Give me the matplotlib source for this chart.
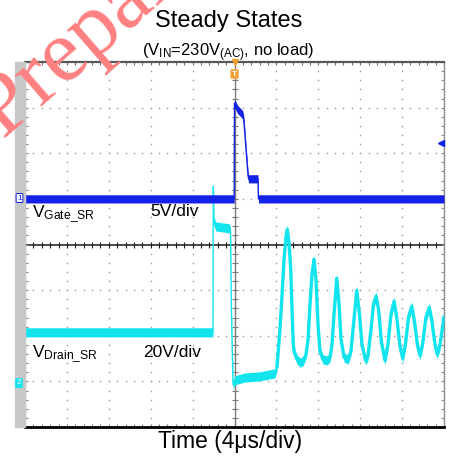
import numpy as np
import matplotlib
matplotlib.use('Agg')
import matplotlib.pyplot as plt
from matplotlib.patches import Rectangle

W, H = 449, 457
plt.rcParams['font.family'] = ['Liberation Sans', 'DejaVu Sans']
plt.rcParams['mathtext.fontset'] = 'custom'
plt.rcParams['mathtext.rm'] = 'Liberation Sans'
plt.rcParams['mathtext.it'] = 'Liberation Sans:italic'
plt.rcParams['mathtext.bf'] = 'Liberation Sans:bold'

# ---------------- data ----------------
time_range_us = (-20, 20)      # 4 us/div, 10 div
gate_range_v = (-25, 15)       # 5 V/div, ground 1 div above centre
drain_range_v = (-20, 140)     # 20 V/div, ground 3 div below centre

gate_t = [-20.0, -0.03, 0.0, 0.3, 0.8, 0.9, 1.29, 1.35, 2.24, 2.29, 20.0]
gate_v = [0.0, 0.0, 10.5, 9.8, 9.2, 8.5, 2.6, 2.2, 2.2, 0.0, 0.0]

drain_t = [-20.0, -2.06, -2.02, -1.96, -1.77, -0.53, -0.38, -0.29, -0.14, 0.05,
           1.0, 2.43, 3.39, 3.87, 4.06, 4.34, 4.53, 4.73, 4.92, 5.04,
           5.20, 5.37, 5.49, 5.61, 5.68, 5.97, 6.25, 6.54, 6.83, 7.02,
           7.21, 7.40, 7.59, 7.78, 7.97, 8.16, 8.45, 8.83, 9.12, 9.31,
           9.50, 9.76, 9.98, 10.17, 10.46, 10.84, 11.12, 11.36, 11.67, 11.93,
           12.17, 12.51, 12.74, 13.03, 13.27, 13.51, 13.75, 14.03, 14.37, 14.65,
           14.94, 15.23, 15.51, 15.80, 16.06, 16.32, 16.61, 16.92, 17.18, 17.47,
           17.71, 17.95, 18.28, 18.60, 18.85, 19.14, 19.36, 19.62, 20.0]
drain_v = [21.5, 21.5, 85.5, 70.1, 67.9, 67.1, 65.8, 30.0, -1.5, 0.5,
           1.7, 2.2, 3.1, 3.5, 6.6, 22.8, 37.3, 53.5, 63.6, 66.6,
           60.9, 49.1, 31.6, 16.2, 13.2, 9.6, 8.3, 8.8, 11.8, 18.4,
           33.8, 46.9, 53.5, 44.7, 25.0, 13.2, 9.6, 9.2, 10.5, 16.2,
           29.4, 45.2, 33.8, 18.4, 10.5, 9.6, 13.2, 25.0, 39.9, 29.4,
           16.2, 9.2, 11.0, 22.8, 33.8, 37.3, 31.6, 17.1, 9.2, 16.2,
           29.4, 35.1, 27.2, 15.3, 10.1, 16.2, 28.1, 32.9, 26.3, 15.8,
           11.4, 16.2, 28.1, 32.4, 26.3, 16.2, 11.8, 16.2, 28.1]

trigger_level_v = 6.1

title = "Steady States"
subtitle = r"(V$_{\mathrm{IN}}$=230V$_{\mathrm{(AC)}}$, no load)"
gate_label = r"V$_{\mathrm{Gate\_SR}}$"
gate_scale = "5V/div"
drain_label = r"V$_{\mathrm{Drain\_SR}}$"
drain_scale = "20V/div"
time_label = "Time (4\u03bcs/div)"
watermark = "Prepared for"

GATE_C = '#1222e6'
DRAIN_C = '#12e4ee'

# ---------------- figure ----------------
fig = plt.figure(figsize=(W / 100, H / 100), dpi=100)


def fx(x):
    return x / W


def fy(y):
    return 1 - y / H


rect = [fx(25), fy(427), (444 - 25) / W, (427 - 62) / H]
axg = fig.add_axes(rect, zorder=0)
axd = fig.add_axes(rect, zorder=1)
axq = fig.add_axes(rect, zorder=2)

# graticule (divisions)
axg.set_xlim(-5, 5)
axg.set_ylim(-4, 4)
axg.set_xticks([])
axg.set_yticks([])
minor_x = np.linspace(-5, 5, 51)
minor_y = np.linspace(-4, 4, 41)
dot_c = '#9a9a9a'
for k in range(-4, 5):
    if k == 0:
        continue
    axg.plot(np.full_like(minor_y, k), minor_y, ls='none', marker='s', ms=1.0,
             mew=0, color=dot_c)
for k in range(-3, 4):
    if k == 0:
        continue
    axg.plot(minor_x, np.full_like(minor_x, k), ls='none', marker='s', ms=1.0,
             mew=0, color=dot_c)
axg.axhline(0, color='#1a1a1a', lw=1.1)
axg.axvline(0, color='#7a7a7a', lw=1.0)
axg.plot(minor_x, np.zeros_like(minor_x), ls='none', marker='|', ms=4,
         mew=0.8, color='#1a1a1a')
axg.plot(np.zeros_like(minor_y), minor_y, ls='none', marker='_', ms=4,
         mew=0.8, color='#7a7a7a')
axg.plot(minor_x, np.full_like(minor_x, 4), ls='none', marker='|', ms=5,
         mew=0.8, color='#707070')
axg.plot(minor_x, np.full_like(minor_x, -4), ls='none', marker='|', ms=5,
         mew=0.8, color='#707070')
axg.plot(np.full_like(minor_y, -5), minor_y, ls='none', marker='_', ms=5,
         mew=0.8, color='#8a8a8a')
axg.plot(np.full_like(minor_y, 5), minor_y, ls='none', marker='_', ms=5,
         mew=0.8, color='#8a8a8a')
axg.spines['top'].set_color('#585858')
axg.spines['top'].set_linewidth(1.6)
axg.spines['bottom'].set_color('#000000')
axg.spines['bottom'].set_linewidth(2.0)
axg.spines['left'].set_color('#a0a0a0')
axg.spines['left'].set_linewidth(0.8)
axg.spines['right'].set_color('#8c8c8c')
axg.spines['right'].set_linewidth(1.0)

# drain trace
axd.set_xlim(time_range_us)
axd.set_ylim(drain_range_v)
axd.axis('off')
dt = np.array(drain_t)
dv = np.array(drain_v)
axd.fill_between(dt, dv - 2.0, dv + 2.0, color=DRAIN_C, lw=0)
axd.plot(dt, dv, color=DRAIN_C, lw=1.0)
ring = dt >= 4.0
axd.plot(dt[ring], dv[ring], color=DRAIN_C, lw=2.4, solid_joinstyle='round')

# gate trace
axq.set_xlim(time_range_us)
axq.set_ylim(gate_range_v)
axq.axis('off')
gv = np.array(gate_v)
axq.fill_between(gate_t, gv - 0.45, gv + 0.45, color=GATE_C, lw=0)
axq.plot(gate_t, gate_v, color=GATE_C, lw=1.0)
axq.plot([19.75], [trigger_level_v], marker='<', ms=4, color=GATE_C,
         clip_on=False)

# trigger position marker
axg.plot([0], [4], marker='v', ms=5, color='#f0a030', clip_on=False, zorder=5)
fig.text(fx(234.5), fy(74), 'T', ha='center', va='center', fontsize=6,
         color='white', fontweight='bold',
         bbox=dict(boxstyle='round,pad=0.15', fc='#f0a030', ec='#f5c070', lw=0.6))

# grey side bar
fig.add_artist(Rectangle((fx(15), fy(427)), 10 / W, 365 / H,
                         transform=fig.transFigure, color='#c8c8c8', zorder=3))

# channel ground markers
fig.text(fx(19.5), fy(198), '1', ha='center', va='center', fontsize=6,
         color=GATE_C, zorder=4,
         bbox=dict(boxstyle='round,pad=0.12', fc='white', ec=GATE_C, lw=0.7))
fig.text(fx(19.0), fy(383), '2', ha='center', va='center', fontsize=6,
         color='white', zorder=4,
         bbox=dict(boxstyle='round,pad=0.12', fc=DRAIN_C, ec=DRAIN_C, lw=0.7))

# texts
fig.text(fx(229), fy(27), title, ha='center', va='baseline', fontsize=17)
fig.text(fx(228), fy(56), subtitle, ha='center', va='baseline', fontsize=12)
fig.text(fx(32), fy(217), gate_label, ha='left', va='baseline', fontsize=12.5, zorder=5)
fig.text(fx(150), fy(216), gate_scale, ha='left', va='baseline', fontsize=12.5, zorder=5)
fig.text(fx(32), fy(357), drain_label, ha='left', va='baseline', fontsize=12.5, zorder=5)
fig.text(fx(143), fy(357), drain_scale, ha='left', va='baseline', fontsize=12.5, zorder=5)
fig.text(fx(230), fy(448), time_label, ha='center', va='baseline', fontsize=16.5)

# watermark (cut by the figure edge, as in the reference)
fig.text(fx(4), fy(140), watermark, rotation=41, rotation_mode='anchor',
         ha='left', va='baseline', fontsize=64, family='Liberation Serif',
         color='#ff8080', zorder=10)

fig.savefig('out.png', dpi=100)
